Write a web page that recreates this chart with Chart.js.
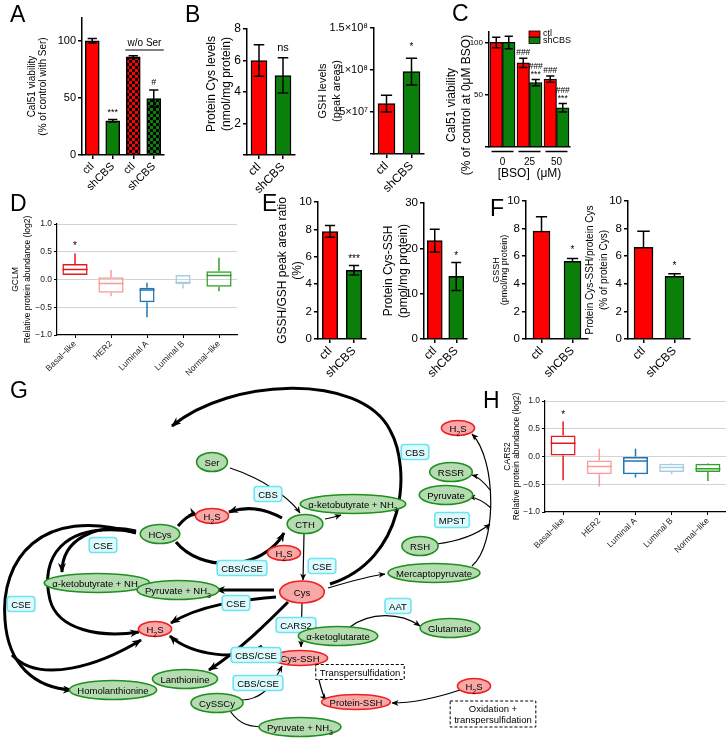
<!DOCTYPE html>
<html>
<head>
<meta charset="utf-8">
<script src="https://cdn.jsdelivr.net/npm/chart.js@4.4.1/dist/chart.umd.min.js"></script>
<style>
  body { margin: 0; background: #fff; }
  #fig { position: relative; width: 726px; height: 742px; overflow: hidden; background: #fff; font-family: Arial, "Liberation Sans", sans-serif; }
  #fig canvas { position: absolute; }
  #ov { position: absolute; left: 0; top: 0; pointer-events: none; }
</style>
</head>
<body>
<div id="fig">
  <svg id="ov" width="726" height="742" font-family="Arial, 'Liberation Sans', sans-serif">
    <defs>
      <marker id="ah" markerWidth="10" markerHeight="8" refX="9" refY="4" orient="auto" markerUnits="userSpaceOnUse">
        <path d="M0,0 L10,4 L0,8 L3,4 z" fill="#000"/>
      </marker>
      <marker id="ahs" markerWidth="7" markerHeight="6" refX="6.5" refY="3" orient="auto" markerUnits="userSpaceOnUse">
        <path d="M0,0 L7,3 L0,6 L2,3 z" fill="#000"/>
      </marker>
    </defs>
    <g id="titles" font-size="12" fill="#000" text-anchor="middle"></g>
    <g id="edges" fill="none" stroke="#000"></g>
    <g id="nodes" font-size="9.5"></g>
    <g id="letters" font-size="23" fill="#000"></g>
  </svg>
</div>
<script>
// ---- A: Cal51 viability with / without serine
const aCats = ['ctl', 'shCBS', 'ctl', 'shCBS'];
const aViab = [100, 30, 86, 49.5];
const aErr = [2, 1, 1, 7.5];
const aMarks = [[], ['***'], [], ['#']];
const aTicks = [0, 50, 100];

// ---- B: protein Cys and GSH
const bCats = ['ctl', 'shCBS'];
const bCys = [6, 5.05];
const bCysErr = [1, 1.12];
const bCysMarks = [[], ['ns']];
const bCysTicks = [0, 2, 4, 6, 8];
const bCysTickLabels = ['', '2', '4', '6', '8'];
const bGsh = [6e7, 9.8e7];
const bGshErr = [1e7, 1.6e7];
const bGshMarks = [[], ['*']];
const bGshTicks = [0, 5e7, 1e8, 1.5e8];
const bGshTickLabels = ['', '5×10⁷', '1×10⁸', '1.5×10⁸'];

// ---- C: BSO dose response
const cDoses = ['0', '25', '50'];
const cCtl = [100, 80.5, 65];
const cCtlErr = [5, 4.5, 3];
const cCtlMarks = [[], ['###'], ['###']];
const cSh = [100, 61.5, 37.5];
const cShErr = [6, 3, 4];
const cShMarks = [[], ['###', '***'], ['###', '***']];
const cTicks = [0, 50, 100];
const cTickLabels = ['', '50', '100'];

// ---- D / H: subtype box plots
const subtypes = ['Basal−like', 'HER2', 'Luminal A', 'Luminal B', 'Normal−like'];
const boxTicks = [-1, -0.5, 0, 0.5, 1];
const boxTickLabels = ['−1.0', '−0.5', '0.0', '0.5', '1.0'];
const gclmMin = [0.08, -0.30, -0.68, -0.16, -0.21];
const gclmQ1 = [0.08, -0.24, -0.41, -0.085, -0.13];
const gclmMed = [0.18, -0.07, -0.19, -0.055, 0.07];
const gclmQ3 = [0.28, 0.04, -0.15, 0.08, 0.15];
const gclmMax = [0.47, 0.17, -0.06, 0.08, 0.39];
const gclmMarks = ['*', '', '', '', ''];
const cars2Min = [-0.43, -0.54, -0.38, -0.32, -0.44];
const cars2Q1 = [0.02, -0.32, -0.32, -0.28, -0.28];
const cars2Med = [0.24, -0.18, -0.08, -0.20, -0.22];
const cars2Q3 = [0.38, -0.07, 0.0, -0.13, -0.13];
const cars2Max = [0.63, 0.14, 0.14, -0.12, -0.12];
const cars2Marks = ['*', '', '', '', ''];

// ---- E / F: persulfides
const eRatio = [7.85, 5.02];
const eRatioErr = [0.43, 0.35];
const eRatioMarks = [[], ['***']];
const eTicks10 = [0, 2, 4, 6, 8, 10];
const eCysSsh = [21.7, 13.8];
const eCysSshErr = [2.5, 3.1];
const eCysSshMarks = [[], ['*']];
const eTicks30 = [0, 10, 20, 30];
const fGssh = [7.82, 5.62];
const fGsshErr = [1.03, 0.22];
const fGsshMarks = [[], ['*']];
const fPct = [6.65, 4.55];
const fPctErr = [1.15, 0.17];
const fPctMarks = [[], ['*']];

const FONT = 'Arial, "Liberation Sans", sans-serif';
const RED = '#ff0000';
const GREEN = '#0a7f0a';
const subtypeColors = ['#e31a1c', '#fb9a99', '#1f78b4', '#a6cee3', '#33a02c'];
const svgNS = 'http://www.w3.org/2000/svg';

Chart.defaults.font.family = FONT;
Chart.defaults.color = '#000';

function mkCanvas(f) {
  const c = document.createElement('canvas');
  c.width = f[2] - f[0];
  c.height = f[3] - f[1];
  c.style.left = f[0] + 'px';
  c.style.top = f[1] + 'px';
  c.style.width = c.width + 'px';
  c.style.height = c.height + 'px';
  document.getElementById('fig').insertBefore(c, document.getElementById('ov'));
  return c;
}

function checks(cv, color) {
  const t = document.createElement('canvas');
  t.width = t.height = 6;
  const g = t.getContext('2d');
  g.fillStyle = color; g.fillRect(0, 0, 6, 6);
  g.fillStyle = '#000'; g.fillRect(0, 0, 3, 3); g.fillRect(3, 3, 3, 3);
  return cv.getContext('2d').createPattern(t, 'repeat');
}

// rotated axis title written into the svg overlay (used where it sits off-centre)
function sideTitle(lines, xs, cy, size) {
  lines.forEach((s, i) => {
    const t = document.createElementNS(svgNS, 'text');
    t.setAttribute('transform', `translate(${xs[i]},${cy}) rotate(-90)`);
    t.setAttribute('dominant-baseline', 'middle');
    t.setAttribute('font-size', size);
    t.textContent = s;
    document.getElementById('titles').appendChild(t);
  });
}

const errorBars = {
  id: 'errorBars',
  afterDatasetsDraw(chart) {
    const ctx = chart.ctx, ys = chart.scales.y;
    chart.data.datasets.forEach((ds, di) => {
      if (!ds.errUp) return;
      const meta = chart.getDatasetMeta(di);
      meta.data.forEach((bar, i) => {
        const v = ds.data[i];
        const top = ys.getPixelForValue(v + ds.errUp[i]);
        const bot = ys.getPixelForValue(v - (ds.twoSided ? ds.errUp[i] : 0));
        const cap = bar.width * 0.33;
        ctx.save();
        ctx.strokeStyle = '#000';
        ctx.lineWidth = 1.5;
        ctx.beginPath();
        ctx.moveTo(bar.x, bot); ctx.lineTo(bar.x, top);
        ctx.moveTo(bar.x - cap, top); ctx.lineTo(bar.x + cap, top);
        if (ds.twoSided) { ctx.moveTo(bar.x - cap, bot); ctx.lineTo(bar.x + cap, bot); }
        ctx.stroke();
        const lines = ds.marks[i] || [];
        const fs = ds.markSize || 10;
        ctx.fillStyle = '#000';
        ctx.font = fs + 'px ' + FONT;
        ctx.textAlign = 'center';
        ctx.textBaseline = 'alphabetic';
        let yy = top - 3 - (ds.markLift || 0);
        for (let k = lines.length - 1; k >= 0; k--) {
          ctx.fillText(lines[k], bar.x, yy);
          yy -= fs * 0.85;
        }
        ctx.restore();
      });
    });
  }
};

function yAxis(max, ticks, labels, title, titleSize, lh, tickSize) {
  return {
    min: 0, max: max,
    afterBuildTicks: s => { s.ticks = ticks.map(v => ({ value: v })); },
    ticks: { callback: (v, i) => labels[i], font: { size: tickSize }, color: '#000', padding: 2 },
    grid: { drawOnChartArea: false, drawTicks: true, tickLength: 4, color: '#000', lineWidth: 1.5 },
    border: { display: true, color: '#000', width: 1.5 },
    title: { display: !!title, text: title || '', color: '#000', font: { size: titleSize, lineHeight: lh }, padding: { top: 0, bottom: 0 } }
  };
}

function xAxis(fontSize, rot) {
  return {
    ticks: { autoSkip: false, minRotation: rot, maxRotation: rot, font: { size: fontSize }, color: '#000', padding: 1 },
    grid: { drawOnChartArea: false, drawTicks: true, tickLength: 4, color: '#000', lineWidth: 1.5, offset: false },
    border: { display: true, color: '#000', width: 1.5 }
  };
}

function makeChart(cv, f, a, data, scales, plugins) {
  scales.x.afterFit = s => { s.height = f[3] - a[3]; };
  scales.y.afterFit = s => { s.width = a[0] - f[0]; };
  return new Chart(cv, {
    type: 'bar',
    data: data,
    options: {
      responsive: false, animation: false, devicePixelRatio: 1,
      layout: { padding: { top: a[1] - f[1], right: f[2] - a[2], left: 0, bottom: 0 } },
      scales: scales,
      plugins: { legend: { display: false }, tooltip: { enabled: false } }
    },
    plugins: [errorBars].concat(plugins || [])
  });
}

function simpleBars(f, a, cats, vals, err, marks, twoSided, colors, thick, yCfg, xFont, markSize, lift, extra) {
  const cv = mkCanvas(f);
  const bg = colors.map(c => typeof c === 'string' ? c : checks(cv, c.check));
  return makeChart(cv, f, a, {
    labels: cats,
    datasets: [{
      data: vals, backgroundColor: bg, borderColor: '#000', borderWidth: 1.5,
      barThickness: thick, errUp: err, twoSided: twoSided, marks: marks, markSize: markSize, markLift: lift
    }]
  }, { x: xAxis(xFont, 45), y: yCfg }, extra);
}

// ---------- A
const woSer = {
  id: 'woSer',
  afterDraw(chart) {
    const ctx = chart.ctx, xs = chart.scales.x, ca = chart.chartArea;
    const x1 = xs.getPixelForValue(2) - 8, x2 = xs.getPixelForValue(3) + 10;
    ctx.save();
    ctx.strokeStyle = '#000'; ctx.lineWidth = 1.2;
    ctx.beginPath(); ctx.moveTo(x1, ca.top + 32); ctx.lineTo(x2, ca.top + 32); ctx.stroke();
    ctx.fillStyle = '#000'; ctx.font = '10px ' + FONT; ctx.textAlign = 'center';
    ctx.fillText('w/o Ser', (x1 + x2) / 2, ca.top + 28);
    ctx.restore();
  }
};
simpleBars([27, 0, 168, 200], [82, 18, 164, 155], aCats, aViab, aErr, aMarks, true,
  [RED, GREEN, { check: RED }, { check: GREEN }], 14,
  yAxis(120, aTicks, ['0', '50', '100'], ['Cal51 viability', '(% of control with Ser)'], 10, 1.1, 11), 11, 9, 2, [woSer]);

// ---------- B
simpleBars([204, 0, 300, 200], [247, 29, 295, 155], bCats, bCys, bCysErr, bCysMarks, true,
  [RED, GREEN], 16,
  yAxis(8, bCysTicks, bCysTickLabels, null, 12, 1.25, 12), 12, 11, 4);
sideTitle(['Protein Cys levels', '(nmol/mg protein)'], [212, 227], 84, 12);
simpleBars([316, 0, 432, 200], [374, 28, 424, 154], bCats, bGsh, bGshErr, bGshMarks, true,
  [RED, GREEN], 17,
  yAxis(1.5e8, bGshTicks, bGshTickLabels, ['GSH levels', '(peak areas)'], 11, 1.25, 11), 12, 10, 5);

// ---------- C
(function () {
  const f = [444, 0, 600, 185], a = [489, 32, 570, 147];
  const cv = mkCanvas(f);
  const cExtras = {
    id: 'cExtras',
    afterDraw(chart) {
      const ctx = chart.ctx, xs = chart.scales.x, ca = chart.chartArea;
      ctx.save();
      ctx.strokeStyle = '#000'; ctx.lineWidth = 1.5;
      cDoses.forEach((_, i) => {
        const px = xs.getPixelForValue(i);
        ctx.beginPath(); ctx.moveTo(px - 11, ca.bottom + 4.5); ctx.lineTo(px + 11, ca.bottom + 4.5); ctx.stroke();
      });
      ctx.font = '9px ' + FONT; ctx.textBaseline = 'middle';
      chart.data.datasets.forEach((ds, k) => {
        const y = ca.top - 1 + k * 6.5;
        ctx.fillStyle = ds.backgroundColor;
        ctx.fillRect(ca.left + 40, y, 11, 6);
        ctx.lineWidth = 0.8; ctx.strokeRect(ca.left + 40, y, 11, 6);
        ctx.fillStyle = '#000';
        ctx.fillText(ds.label, ca.left + 54, y + 3);
      });
      ctx.restore();
    }
  };
  const x = xAxis(10, 0);
  x.grid.drawTicks = false;
  x.ticks.padding = 9;
  x.title = { display: true, text: '[BSO]  (μM)', font: { size: 12 }, color: '#000', padding: { top: 0, bottom: 4 } };
  makeChart(cv, f, a, {
    labels: cDoses,
    datasets: [
      { label: 'ctl', data: cCtl, backgroundColor: RED, borderColor: '#000', borderWidth: 1.2, barThickness: 12.5, errUp: cCtlErr, twoSided: true, marks: cCtlMarks, markSize: 8.5 },
      { label: 'shCBS', data: cSh, backgroundColor: GREEN, borderColor: '#000', borderWidth: 1.2, barThickness: 12.5, errUp: cShErr, twoSided: true, marks: cShMarks, markSize: 8.5 }
    ]
  }, { x: x, y: yAxis(110, cTicks, cTickLabels, null, 12, 1.25, 8) }, [cExtras]);
  sideTitle(['Cal51 viability', '(% of  control at 0μM BSO)'], [452, 467], 105, 12);
})();

// ---------- D / H box plots
function boxChart(f, a, title, lh, mn, q1, med, q3, mx, marks, widths) {
  const cv = mkCanvas(f);
  const whisk = {
    id: 'whisk',
    afterDatasetsDraw(chart) {
      const ctx = chart.ctx, xs = chart.scales.x, ys = chart.scales.y;
      const cw = xs.width / subtypes.length;
      subtypes.forEach((_, i) => {
        const px = xs.getPixelForValue(i), half = widths[i] * cw / 2;
        ctx.save();
        ctx.strokeStyle = subtypeColors[i]; ctx.lineWidth = 1.5;
        ctx.beginPath();
        ctx.moveTo(px, ys.getPixelForValue(q3[i])); ctx.lineTo(px, ys.getPixelForValue(mx[i]));
        ctx.moveTo(px, ys.getPixelForValue(q1[i])); ctx.lineTo(px, ys.getPixelForValue(mn[i]));
        ctx.moveTo(px - half, ys.getPixelForValue(med[i])); ctx.lineTo(px + half, ys.getPixelForValue(med[i]));
        ctx.stroke();
        if (marks[i]) {
          ctx.fillStyle = '#000'; ctx.font = '10px ' + FONT; ctx.textAlign = 'center';
          ctx.fillText(marks[i], px, ys.getPixelForValue(mx[i]) - 4);
        }
        ctx.restore();
      });
    }
  };
  const datasets = [...new Set(widths)].map(w => ({
    data: q1.map((v, i) => widths[i] === w ? [v, q3[i]] : null),
    backgroundColor: 'rgba(255,255,255,0)', borderColor: subtypeColors, borderWidth: 1.5, borderSkipped: false,
    grouped: false, barPercentage: w, categoryPercentage: 1
  }));
  return new Chart(cv, {
    type: 'bar',
    data: { labels: subtypes, datasets: datasets },
    options: {
      responsive: false, animation: false, devicePixelRatio: 1,
      layout: { padding: { top: a[1] - f[1], right: f[2] - a[2], left: 0, bottom: 0 } },
      plugins: { legend: { display: false }, tooltip: { enabled: false } },
      scales: {
        x: {
          afterFit: s => { s.height = f[3] - a[3]; },
          ticks: { autoSkip: false, minRotation: 45, maxRotation: 45, font: { size: 8.5 }, color: '#222', padding: 1 },
          grid: { drawOnChartArea: false, drawTicks: true, tickLength: 3, color: '#000', offset: false },
          border: { display: true, color: '#000', width: 1.2 }
        },
        y: {
          min: -1, max: 1,
          afterFit: s => { s.width = a[0] - f[0]; },
          afterBuildTicks: s => { s.ticks = boxTicks.map(v => ({ value: v })); },
          ticks: { callback: (v, i) => boxTickLabels[i], font: { size: 8.5 }, color: '#222', padding: 2 },
          grid: { color: c => (c.tick && c.tick.value === -1) ? 'rgba(0,0,0,0)' : '#d3d3d3', tickColor: '#000', tickLength: 3, lineWidth: 1 },
          border: { display: true, color: '#000', width: 1.2 },
          title: { display: true, text: title, color: '#000', font: { size: 8.5, lineHeight: lh }, padding: { top: 0, bottom: 0 } }
        }
      }
    },
    plugins: [whisk]
  });
}
boxChart([10, 190, 240, 385], [57, 224, 237, 335], ['GCLM', 'Relative protein abundance (log2)'], 1.38,
  gclmMin, gclmQ1, gclmMed, gclmQ3, gclmMax, gclmMarks, [0.7, 0.7, 0.42, 0.42, 0.7]);
boxChart([503, 385, 726, 560], [545, 401, 726, 512], ['CARS2', 'Relative protein abundance (log2)'], 1.08,
  cars2Min, cars2Q1, cars2Med, cars2Q3, cars2Max, cars2Marks, [0.69, 0.69, 0.69, 0.69, 0.69]);

// ---------- E
simpleBars([275, 190, 372, 385], [318, 202, 366, 339], bCats, eRatio, eRatioErr, eRatioMarks, true,
  [RED, GREEN], 15.5,
  yAxis(10, eTicks10, eTicks10.map(String), ['GSSH/GSH peak area ratio', '(%)'], 12, 1.25, 11.5), 12, 10, 0);
simpleBars([381, 190, 472, 385], [424, 203, 467, 339], bCats, eCysSsh, eCysSshErr, eCysSshMarks, true,
  [RED, GREEN], 15,
  yAxis(30, eTicks30, eTicks30.map(String), ['Protein Cys-SSH', '(pmol/mg protein)'], 12, 1.25, 11.5), 12, 10, 0);

// ---------- F
simpleBars([492, 190, 592, 385], [526, 201, 588, 339], bCats, fGssh, fGsshErr, fGsshMarks, false,
  [RED, GREEN], 17,
  yAxis(10, eTicks10, eTicks10.map(String), ['GSSH', '(pmol/mg protein)'], 9, 0.95, 11.5), 12, 10, 2);
simpleBars([583, 190, 700, 385], [628, 201, 690, 339], bCats, fPct, fPctErr, fPctMarks, false,
  [RED, GREEN], 19,
  yAxis(10, eTicks10, eTicks10.map(String), ['Protein Cys-SSH/protein Cys', '(% of protein Cys)'], 10, 1.4, 11.5), 12, 10, 2);

// ---------- panel letters
const letters = [['A', 10, 22], ['B', 185, 22], ['C', 452, 21], ['D', 10, 211], ['E', 262, 211], ['F', 490, 216], ['G', 10, 398], ['H', 483, 408]];
letters.forEach(([t, x, y]) => {
  const e = document.createElementNS(svgNS, 'text');
  e.setAttribute('x', x); e.setAttribute('y', y); e.textContent = t;
  document.getElementById('letters').appendChild(e);
});

// ---------- G pathway diagram
const gNodes = [
  ['Ser', 212, 462, 'g'],
  ['CBS', 268, 494, 'c'],
  ['α-ketobutyrate + NH_3', 353, 504, 'g'],
  ['H_2S', 458, 428, 'r'],
  ['CBS', 415, 452, 'c'],
  ['RSSR', 451, 472, 'g'],
  ['Pyruvate', 446, 495, 'g'],
  ['MPST', 452, 520, 'c'],
  ['RSH', 420, 546, 'g'],
  ['Mercaptopyruvate', 434, 573, 'g'],
  ['HCys', 160, 534, 'g'],
  ['CSE', 103, 545, 'c'],
  ['H_2S', 212, 516, 'r'],
  ['CTH', 305, 524, 'g'],
  ['H_2S', 284, 553, 'r'],
  ['CBS/CSE', 242, 568, 'c'],
  ['CSE', 322, 566, 'c'],
  ['Cys', 302, 592, 'R'],
  ['α-ketobutyrate + NH_3', 97, 583, 'g'],
  ['Pyruvate + NH_3', 178, 590, 'g'],
  ['CSE', 21, 604, 'c'],
  ['CSE', 236, 603, 'c'],
  ['H_2S', 155, 629, 'r'],
  ['CARS2', 296, 625, 'c'],
  ['AAT', 398, 606, 'c'],
  ['α-ketoglutarate', 338, 636, 'g'],
  ['Glutamate', 450, 628, 'g'],
  ['Cys-SSH', 300, 658, 'r'],
  ['CBS/CSE', 256, 655, 'c'],
  ['Lanthionine', 185, 679, 'g'],
  ['Homolanthionine', 113, 690, 'g'],
  ['CBS/CSE', 258, 683, 'c'],
  ['Transpersulfidation', 360, 672, 'd'],
  ['H_2S', 474, 686, 'r'],
  ['CySSCy', 217, 703, 'g'],
  ['Protein-SSH', 356, 702, 'r'],
  ['Oxidation +|transpersulfidation', 493, 714, 'd'],
  ['Pyruvate + NH_3', 300, 727, 'g']
];

// [path, thick]
const gEdges = [
  ['M330,584 C405,560 412,470 390,430 C360,372 230,378 172,426', 1],
  ['M178,526 Q190,512 197,515', 1],
  ['M282,518 Q255,503 229,512', 1],
  ['M176,542 C200,572 262,572 284,533', 1],
  ['M274,590 L216,590', 1],
  ['M276,597 C240,600 200,605 171,623', 1],
  ['M288,602 C265,625 240,650 209,670', 1],
  ['M262,646 C240,662 190,655 170,636', 1],
  ['M136,531 C95,522 62,540 62,572', 1],
  ['M136,532 C60,520 40,560 50,600 C58,630 100,638 139,632', 1],
  ['M136,533 C40,505 0,560 5,620 C8,665 35,688 72,690', 1],
  ['M12,655 C40,685 100,665 141,640', 1],
  ['M230,468 C262,478 290,498 300,513', 0],
  ['M325,519 Q335,517 341,515', 0],
  ['M304,534 L303,580', 0],
  ['M302,603 L301,647', 0],
  ['M328,588 C355,580 370,576 385,574', 0],
  ['M350,627 C370,612 400,612 420,626', 0],
  ['M472,566 C497,545 497,460 472,434', 0],
  ['M490,490 Q480,477 472,475', 0],
  ['M491,508 Q480,498 469,497', 0],
  ['M436,544 Q470,540 490,524', 0],
  ['M316,667 Q322,695 326,700', 0],
  ['M460,690 C430,700 410,703 392,703', 0],
  ['M241,700 C265,700 275,680 282,666', 0],
  ['M230,711 C240,725 250,727 266,727', 0]
];

const edgeG = document.getElementById('edges');
gEdges.forEach(([d, thick]) => {
  const p = document.createElementNS(svgNS, 'path');
  p.setAttribute('d', d);
  p.setAttribute('stroke-width', thick ? 3 : 1.2);
  p.setAttribute('marker-end', thick ? 'url(#ah)' : 'url(#ahs)');
  edgeG.appendChild(p);
});

function addLabel(parent, s, x, y) {
  const t = document.createElementNS(svgNS, 'text');
  t.setAttribute('x', x); t.setAttribute('y', y);
  t.setAttribute('text-anchor', 'middle');
  s.split(/_(\d)/).forEach((part, k) => {
    if (!part) return;
    const ts = document.createElementNS(svgNS, 'tspan');
    ts.textContent = part;
    if (k % 2 === 1) { ts.setAttribute('font-size', '7'); ts.setAttribute('baseline-shift', 'sub'); }
    t.appendChild(ts);
  });
  parent.appendChild(t);
  return t;
}

const styles = {
  g: { fill: '#b5dbb0', stroke: '#1f8f1f' },
  r: { fill: '#f9a8a8', stroke: '#ee2020' },
  R: { fill: '#f9a8a8', stroke: '#ee2020' },
  c: { fill: '#ddfafd', stroke: '#6fe3ef' },
  d: { fill: '#ffffff', stroke: '#000' }
};
const nodeG = document.getElementById('nodes');
gNodes.forEach(([s, x, y, k]) => {
  const g = document.createElementNS(svgNS, 'g');
  nodeG.appendChild(g);
  const shape = document.createElementNS(svgNS, (k === 'c' || k === 'd') ? 'rect' : 'ellipse');
  g.appendChild(shape);
  const lines = s.split('|');
  const texts = lines.map((ln, i) => addLabel(g, ln, x, y + 3.5 + (i - (lines.length - 1) / 2) * 11));
  const w = Math.max(...texts.map(t => t.getBBox().width));
  const st = styles[k];
  shape.setAttribute('fill', st.fill);
  shape.setAttribute('stroke', st.stroke);
  shape.setAttribute('stroke-width', 1.6);
  if (k === 'c' || k === 'd') {
    const h = 15 + (lines.length - 1) * 11;
    shape.setAttribute('x', x - w / 2 - 4); shape.setAttribute('y', y - h / 2);
    shape.setAttribute('width', w + 8); shape.setAttribute('height', h);
    shape.setAttribute('rx', k === 'c' ? 3 : 0);
    if (k === 'd') { shape.setAttribute('stroke-dasharray', '3,2'); shape.setAttribute('stroke-width', 1); }
  } else {
    shape.setAttribute('cx', x); shape.setAttribute('cy', y);
    shape.setAttribute('rx', w / 2 + (k === 'R' ? 14 : 8));
    shape.setAttribute('ry', k === 'R' ? 11 : (k === 'r' ? 7.5 : 9.5));
  }
});
</script>
</body>
</html>
